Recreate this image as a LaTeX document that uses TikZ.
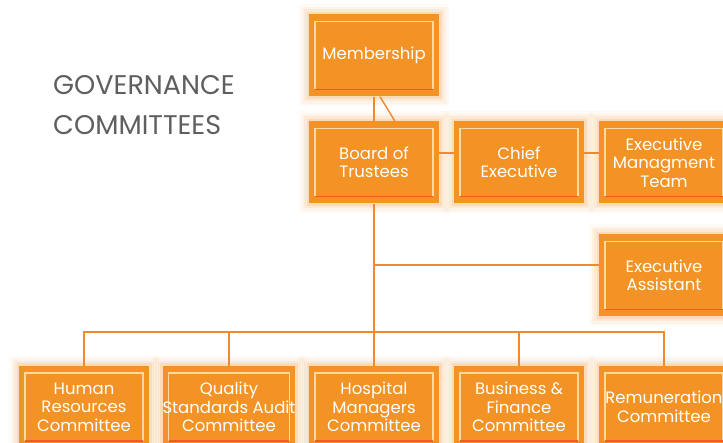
\documentclass[tikz,border=0pt]{standalone}
\usepackage{fontspec}
\setmainfont{Poppins}
\definecolor{boxorange}{HTML}{F39325}
\definecolor{glow}{HTML}{F7A040}
\definecolor{innerlight}{HTML}{FDD9A3}
\definecolor{innerdark}{HTML}{EE5B25}
\definecolor{linkorange}{HTML}{F08A2C}
\definecolor{titlegray}{HTML}{5F5F5F}
\tikzset{
  orgbox/.style={rectangle, minimum width=130pt, minimum height=82pt, inner sep=0pt,
    fill=boxorange, text=white, align=center, font=\fontsize{16.5}{18.5}\selectfont,
    preaction={draw=glow, line width=20pt, opacity=0.05},
    preaction={draw=glow, line width=15pt, opacity=0.07},
    preaction={draw=glow, line width=10pt, opacity=0.10},
    preaction={draw=glow, line width=5pt, opacity=0.18},
    path picture={
      \draw[innerlight, line width=1.6pt]
        ([shift={(6pt,7pt)}]path picture bounding box.south west) --
        ([shift={(6pt,-7pt)}]path picture bounding box.north west) --
        ([shift={(-6pt,-7pt)}]path picture bounding box.north east) --
        ([shift={(-6pt,7pt)}]path picture bounding box.south east);
      \draw[innerdark, line width=1.6pt]
        ([shift={(6pt,7pt)}]path picture bounding box.south west) --
        ([shift={(-6pt,7pt)}]path picture bounding box.south east);
    }},
  link/.style={draw=linkorange, line width=2pt},
  titletext/.style={anchor=base west, inner sep=0pt, text=titlegray, font=\fontsize{27}{30}\selectfont}
}
\begin{document}
\begin{tikzpicture}[x=1pt,y=-1pt]
\useasboundingbox (0,0) rectangle (723,443);
\clip (0,0) rectangle (723,443);
\fill[white] (0,0) rectangle (723,443);

% title
\node[titletext] (t1) at (53,95) {GOVERNANCE};
\node[titletext] (t2) at (53,135) {COMMITTEES};

\coordinate (eaj) at (374,265);
\coordinate (bus) at (374,332);

\node[orgbox] (mem) at (374,55.5) {Membership};
\node[orgbox] (board) at (374,162.5) {Board of\\Trustees};
\node[orgbox] (chief) at (519,162.5) {Chief\\Executive};
\node[orgbox] (emt) at (664,162.5) {Executive\\Managment\\Team};
\node[orgbox] (ea) at (664,275.5) {Executive\\Assistant};
\node[orgbox] (hr) at (84,407) {Human\\Resources\\Committee};
\node[orgbox] (qs) at (229,407) {Quality\\Standards Audit\\Committee};
\node[orgbox] (hm) at (374,407) {Hospital\\Managers\\Committee};
\node[orgbox] (bf) at (519,407) {Business \&\\Finance\\Committee};
\node[orgbox] (rem) at (664,407) {Remuneration\\Committee};

\path[link] (mem.south) -- (board.north);
\path[link, line width=1.4pt] ([xshift=6pt]mem.south) -- ([xshift=21pt]board.north);
\path[link] ([yshift=9.5pt]board.east) -- ([yshift=9.5pt]chief.west);
\path[link] ([yshift=9.5pt]chief.east) -- ([yshift=9.5pt]emt.west);
\path[link] (board.south) -- (hm.north);
\path[link] (eaj) -- (eaj -| ea.west);
\path[link] (hr.north) -- (hr.north |- bus) -- (rem.north |- bus) -- (rem.north);
\path[link] (qs.north) -- (qs.north |- bus);
\path[link] (bf.north) -- (bf.north |- bus);
\end{tikzpicture}
\end{document}
